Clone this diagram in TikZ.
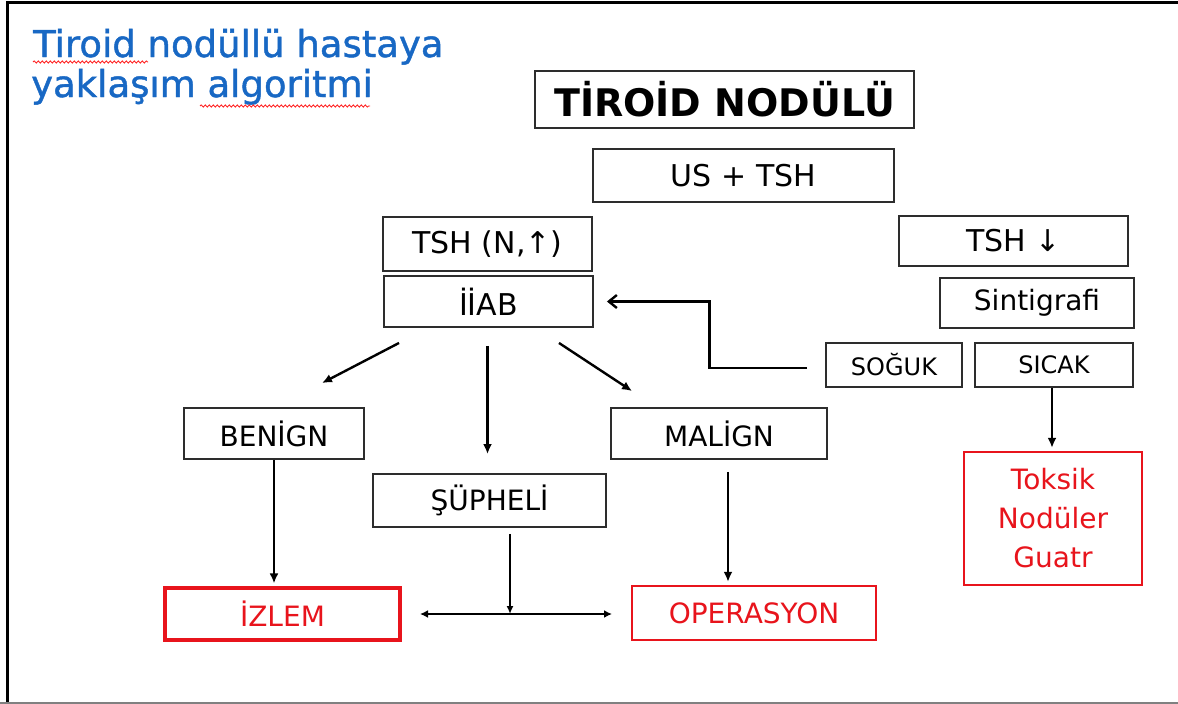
\documentclass[tikz,border=0pt]{standalone}
\usepackage{fontspec}
\setmainfont{DejaVu Sans}
\usetikzlibrary{arrows.meta,decorations.pathmorphing,calc}
\definecolor{ttlblue}{RGB}{24,104,196}
\definecolor{boxred}{RGB}{232,20,28}
\definecolor{boxgray}{RGB}{45,45,45}
\begin{document}
\begin{tikzpicture}[x=1pt,y=-1pt,
  bx/.style={draw=boxgray, line width=1.9pt, inner sep=0pt, text=black, font=\fontsize{28}{30}\selectfont},
  rbx/.style={bx, draw=boxred, text=boxred},
  arr/.style={line width=2.4pt, -{Latex[length=10pt,width=9pt]}},
  squig/.style={draw=red!85, line width=0.9pt, decorate, decoration={snake, amplitude=1.1pt, segment length=4pt}}
]
\useasboundingbox (0,0) rectangle (1178,704);
\fill[white] (0,0) rectangle (1178,704);
% frame
\draw[line width=3pt, black] (7,704) -- (7,2) -- (1178,2);
\draw[line width=2pt, gray] (0,702.5) -- (1178,702.5);

% title
\node[anchor=base west, text=ttlblue, font=\fontsize{37}{40}\selectfont\addfontfeature{FakeBold=1.2}, inner sep=0pt] (t1) at (33,57) {Tiroid nodüllü hastaya};
\node[anchor=base west, text=ttlblue, font=\fontsize{37}{40}\selectfont\addfontfeature{FakeBold=1.2}, inner sep=0pt] (t2) at (31,97) {yaklaşım algoritmi};
\draw[squig] (33,62) -- (148,62);
\draw[squig] (200,106) -- (370,106);

% boxes
\node[bx, minimum width=379, minimum height=57, font=\bfseries\fontsize{38}{40}\selectfont] (tn) at (724.5,99.5) {TİROİD NODÜLÜ};
\node[bx, minimum width=301, minimum height=53, font=\fontsize{30}{32}\selectfont] (us) at (743.5,175.5) {US + TSH};
\node[bx, minimum width=209, minimum height=54, font=\fontsize{30}{32}\selectfont] (tshn) at (487.5,244) {TSH (N,↑)};
\node[bx, minimum width=209, minimum height=51, font=\fontsize{30}{32}\selectfont] (iiab) at (488.5,301.5) {İİAB};
\node[bx, minimum width=229, minimum height=50, font=\fontsize{30}{32}\selectfont] (tshd) at (1013.5,241) {TSH ↓};
\node[bx, minimum width=194, minimum height=50] (sint) at (1037,303) {Sintigrafi};
\node[bx, minimum width=136, minimum height=44, font=\fontsize{24}{26}\selectfont] (soguk) at (894,365) {SOĞUK};
\node[bx, minimum width=158, minimum height=44, font=\fontsize{24}{26}\selectfont] (sicak) at (1054,365) {SICAK};
\node[bx, minimum width=180, minimum height=51] (benign) at (274,433.5) {BENİGN};
\node[bx, minimum width=233, minimum height=53] (supheli) at (489.5,500.5) {ŞÜPHELİ};
\node[bx, minimum width=216, minimum height=51] (malign) at (719,433.5) {MALİGN};
\node[rbx, line width=3.2pt, minimum width=235, minimum height=52] (izlem) at (282.5,614) {İZLEM};
\node[rbx, line width=2.4pt, minimum width=244, minimum height=54] (oper) at (754,613) {OPERASYON};
\node[rbx, line width=2.4pt, minimum width=178, minimum height=133, align=center, font=\fontsize{28}{39}\selectfont] (toksik) at (1053,518.5) {Toksik\\Nodüler\\Guatr};

% connectors
\draw[arr] ($(iiab.south west)+(16,15)$) -- ($(benign.north)+(48,-24)$);
\draw[arr] ($(iiab.south)+(-1,18)$) -- ($(supheli.north)+(-2,-19)$);
\draw[arr] ($(iiab.south east)+(-35,15)$) -- ($(malign.north west)+(22,-16)$);
\draw[line width=2.4pt, -{Straight Barb[length=8pt,width=13pt]}] ($(soguk.west)+(-18,3)$) -| ($(iiab.east)!0.5!(soguk.west)+(0,0)$) |- ($(iiab.east)+(13,0)$);
\draw[arr] (sicak.south -| 1052,0) -- ($(toksik.north -| 1052,0)+(0,-3)$);
\draw[arr] (benign.south) -- ($(izlem.north -| benign.south)+(0,-3)$);
\draw[arr] ($(malign.south)+(9,12)$) -- ($(oper.north -| 728,0)+(0,-3)$);
\coordinate (jn) at (510,614);
\coordinate (jl) at (420,614);
\coordinate (jr) at (612,614);
\draw[line width=2.4pt, {Latex[length=8pt,width=8pt]}-{Latex[length=8pt,width=8pt]}] (jl) -- (jr);
\draw[line width=2.4pt, -{Latex[length=8pt,width=7pt]}] (supheli.south -| jn) ++(0,6) -- (jn);
\end{tikzpicture}
\end{document}
